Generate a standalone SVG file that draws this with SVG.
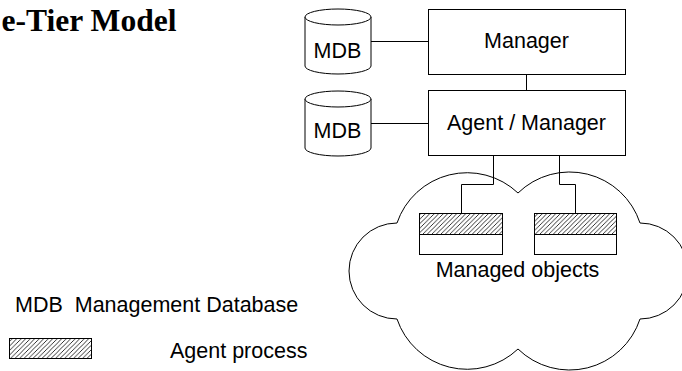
<svg xmlns="http://www.w3.org/2000/svg" width="682" height="371" viewBox="0 0 682 371">
<defs>
<pattern id="hatch" patternUnits="userSpaceOnUse" width="4.5" height="4.5">
<path d="M0,4.5 L4.5,0 M-1,1 L1,-1 M3.5,5.5 L5.5,3.5" stroke="#000" stroke-width="0.8" fill="none"/>
</pattern>
</defs>
<style>
.box{fill:#fff;stroke:#000;stroke-width:1}
.ln{fill:none;stroke:#000;stroke-width:1}
.lbl{font-family:"Liberation Sans",Arial,sans-serif;font-size:21.5px;fill:#000}
.mid{text-anchor:middle}
.hatch{fill:url(#hatch);stroke:#000;stroke-width:1}
.title{font-family:"Liberation Serif","Times New Roman",serif;font-weight:bold;font-size:32px;fill:#000}
</style>
<rect width="682" height="371" fill="#fff"/>
<text id="title" class="title" x="1.5" y="31" textLength="175" lengthAdjust="spacingAndGlyphs">e-Tier Model</text>

<g id="cloud">
<path class="box" d="M397,223 A74,74 0 0 1 518,193 A74,74 0 0 1 640,223 A48,48 0 1 1 640,319 A74,74 0 0 1 518,349 A74,74 0 0 1 397,319 A48,48 0 1 1 397,223 Z"/>
<text class="lbl mid" x="517.5" y="276.5">Managed objects</text>
</g>

<g id="connectors">
<line class="ln" x1="371" y1="41.5" x2="428.5" y2="41.5"/>
<line class="ln" x1="371" y1="123.5" x2="428.5" y2="123.5"/>
<line class="ln" x1="526.5" y1="74.5" x2="526.5" y2="90.5"/>
<polyline class="ln" points="493.5,155.5 493.5,184.5 461.5,184.5 461.5,213.5"/>
<polyline class="ln" points="559.5,155.5 559.5,184.5 575.5,184.5 575.5,213.5"/>
</g>

<g id="mdb1">
<path class="box" d="M305,17 L305,66 A33,8 0 0 0 371,66 L371,17"/>
<ellipse class="box" cx="338" cy="17" rx="33" ry="8"/>
<text class="lbl mid" x="337.5" y="58.3">MDB</text>
</g>

<g id="manager">
<rect class="box" x="428.5" y="9.5" width="197" height="65"/>
<text class="lbl mid" x="526.5" y="48.3">Manager</text>
</g>

<g id="mdb2">
<path class="box" d="M305,99 L305,148 A33,8 0 0 0 371,148 L371,99"/>
<ellipse class="box" cx="338" cy="99" rx="33" ry="8"/>
<text class="lbl mid" x="337.5" y="138.3">MDB</text>
</g>

<g id="agent-manager">
<rect class="box" x="428.5" y="90.5" width="197" height="65"/>
<text class="lbl mid" x="526.5" y="130">Agent / Manager</text>
</g>

<g id="object1">
<rect class="hatch" x="419.5" y="213.5" width="83" height="21"/>
<rect class="box" x="419.5" y="234.5" width="83" height="20"/>
</g>

<g id="object2">
<rect class="hatch" x="534.5" y="213.5" width="82" height="21"/>
<rect class="box" x="534.5" y="234.5" width="82" height="20"/>
</g>

<g id="legend-mdb">
<text class="lbl" x="15" y="311.7" xml:space="preserve">MDB  Management Database</text>
</g>

<g id="legend-agent">
<rect class="hatch" x="9.5" y="338.5" width="82" height="20"/>
<text class="lbl" x="170" y="358.3">Agent process</text>
</g>
</svg>
